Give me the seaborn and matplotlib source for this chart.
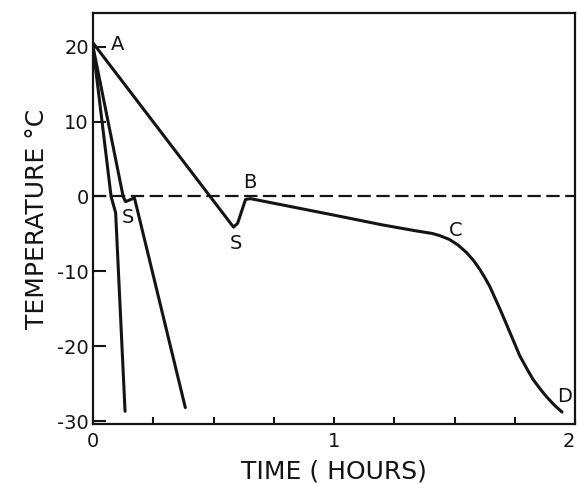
import matplotlib
matplotlib.use("Agg")
import matplotlib.pyplot as plt
import seaborn as sns
import pandas as pd
from matplotlib.ticker import MultipleLocator, FixedLocator

# slow cooling curve A-S-B-C-D
slow_time = [0.0, 0.583, 0.60, 0.633, 0.654, 1.0, 1.2, 1.34, 1.408, 1.44, 1.479,
             1.515, 1.55, 1.58, 1.604, 1.625, 1.646, 1.667, 1.688, 1.708, 1.729,
             1.75, 1.771, 1.80, 1.825, 1.855, 1.883, 1.915, 1.946]
slow_temp = [20.5, -4.1, -3.6, -0.4, -0.3, -2.5, -3.8, -4.6, -4.95, -5.25, -5.75,
             -6.5, -7.5, -8.6, -9.7, -10.8, -12.0, -13.5, -15.0, -16.5, -18.1,
             -19.7, -21.3, -23.0, -24.4, -25.7, -26.8, -27.9, -28.8]
# medium cooling curve
med_time = [0.0, 0.125, 0.135, 0.172, 0.383]
med_temp = [20.0, 0.0, -0.7, -0.2, -28.2]
# fast cooling curve
fast_time = [0.0, 0.075, 0.094, 0.133]
fast_temp = [20.0, 0.0, -2.2, -28.7]

point_labels = ["A", "S", "S", "B", "C", "D"]
point_x = [0.10, 0.145, 0.595, 0.65, 1.505, 1.955]
point_y = [20.3, -2.8, -6.3, 1.8, -4.5, -26.7]

sns.set_style("white")
plt.rcParams["font.family"] = ["DejaVu Sans"]
plt.rcParams["axes.unicode_minus"] = False

fig = plt.figure(figsize=(5.78, 4.84), dpi=100)
ax = fig.add_axes([93/578, 1-424/484, (575-93)/578, (424-13)/484])

ink = "#141414"
for t, T in [(slow_time, slow_temp), (med_time, med_temp), (fast_time, fast_temp)]:
    df = pd.DataFrame({"t": t, "T": T})
    sns.lineplot(data=df, x="t", y="T", sort=False, color=ink, linewidth=2.2,
                 ax=ax, estimator=None, solid_joinstyle="round")

ax.axhline(0, color=ink, linewidth=1.6, linestyle=(0, (6, 2.5)))

for lab, x, y in zip(point_labels, point_x, point_y):
    ax.text(x, y, lab, fontsize=14, color=ink, ha="center", va="center")

ax.set_xlim(0, 2)
ax.set_ylim(-30.4, 24.5)
ax.xaxis.set_major_locator(FixedLocator([0, 1, 2]))
ax.xaxis.set_minor_locator(MultipleLocator(0.25))
ax.set_xticklabels(["0", "1", "2"])
ax.set_yticks([20, 10, 0, -10, -20, -30])
ax.set_yticklabels(["20", "10", "0", "-10", "-20", "-30"])
ax.tick_params(axis="both", which="both", direction="in", color=ink, width=1.5,
               labelsize=14, labelcolor=ink, bottom=True, left=True)
ax.tick_params(axis="x", which="both", length=5, pad=6)
ax.tick_params(axis="y", which="major", length=9, pad=3)
ax.get_xticklabels()[-1].set_horizontalalignment("right")
for s in ax.spines.values():
    s.set_color(ink)
    s.set_linewidth(1.6)

ax.set_xlabel("TIME ( HOURS)", fontsize=18, color=ink, labelpad=6)
ax.set_ylabel("TEMPERATURE °C", fontsize=18, color=ink, labelpad=6)

fig.savefig("out.png", dpi=100)
